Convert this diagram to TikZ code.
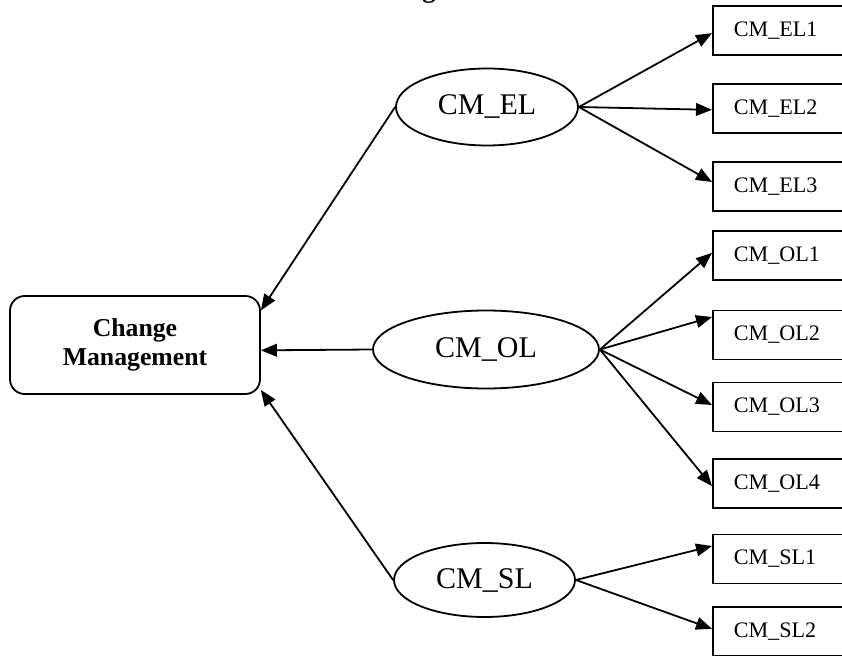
\documentclass[tikz,border=0pt]{standalone}
\usepackage{fontspec}
\setmainfont{Liberation Serif}
\usetikzlibrary{arrows.meta,shapes.geometric}

\tikzset{
  link/.style={line width=1.35pt, -{Triangle[length=12pt,width=9.5pt]}},
  mainbox/.style={draw, line width=1.35pt, rounded corners=11pt,
    minimum width=187.5pt, minimum height=73.5pt, align=center,
    font=\fontsize{19.3pt}{21.75pt}\selectfont\bfseries},
  level/.style={draw, ellipse, line width=1.35pt, inner sep=0pt,
    font=\fontsize{22.5pt}{24pt}\selectfont},
  leaf/.style={draw, line width=1.35pt, minimum height=36.75pt,
    text width=70.5pt, inner xsep=15.75pt, align=left,
    font=\fontsize{16.6pt}{18pt}\selectfont},
}

\begin{document}
\begin{tikzpicture}[x=0.75pt, y=-0.75pt]
\useasboundingbox (0,0) rectangle (842,656);
\clip (0,0) rectangle (842,656);

% heading descender peeking in at the top edge
\node[anchor=base, inner sep=0pt, font=\fontsize{20pt}{22pt}\selectfont\bfseries] (head) at (429,-2.5) {g};

% central concept
\node[mainbox] (cm) at (135,345) {Change\\Management};

% the three levels
\node[level, minimum width=136.5pt, minimum height=57.75pt] (el) at (487,107) {CM\_EL};
\node[level, minimum width=169.5pt, minimum height=58.5pt] (ol) at (486,349.5) {CM\_OL};
\node[level, minimum width=135.75pt, minimum height=55.5pt] (sl) at (484.5,580) {CM\_SL};

% sub-items
\node[leaf, anchor=west] (el1) at (712,30.5)  {CM\_EL1};
\node[leaf, anchor=west] (el2) at (712,108.5) {CM\_EL2};
\node[leaf, anchor=west] (el3) at (712,186.5) {CM\_EL3};
\node[leaf, anchor=west] (ol1) at (712,255.5) {CM\_OL1};
\node[leaf, anchor=west] (ol2) at (712,335)   {CM\_OL2};
\node[leaf, anchor=west] (ol3) at (712,407)   {CM\_OL3};
\node[leaf, anchor=west] (ol4) at (712,483.5) {CM\_OL4};
\node[leaf, anchor=west] (sl1) at (712,559)   {CM\_SL1};
\node[leaf, anchor=west] (sl2) at (712,631.5) {CM\_SL2};

% levels feeding the central concept
\draw[link] (el.west) -- ([yshift=26pt]cm.east);
\draw[link] (ol.west) -- ([yshift=-4pt]cm.east);
\draw[link] (sl.west) -- ([yshift=-33.75pt]cm.east);

% levels branching into their items
\draw[link] (el.east) -- ([yshift=-2pt]el1.west);
\draw[link] (el.east) -- ([yshift=-1pt]el2.west);
\draw[link] (el.east) -- ([yshift=3.4pt]el3.west);

\draw[link] (ol.east) -- ([yshift=2pt]ol1.west);
\draw[link] (ol.east) -- ([yshift=13.5pt]ol2.west);
\draw[link] (ol.east) -- ([yshift=1.5pt]ol3.west);
\draw[link] (ol.east) -- ([yshift=-2pt]ol4.west);

\draw[link] (sl.east) -- ([yshift=9.75pt]sl1.west);
\draw[link] (sl.east) -- ([yshift=2pt]sl2.west);
\end{tikzpicture}
\end{document}
